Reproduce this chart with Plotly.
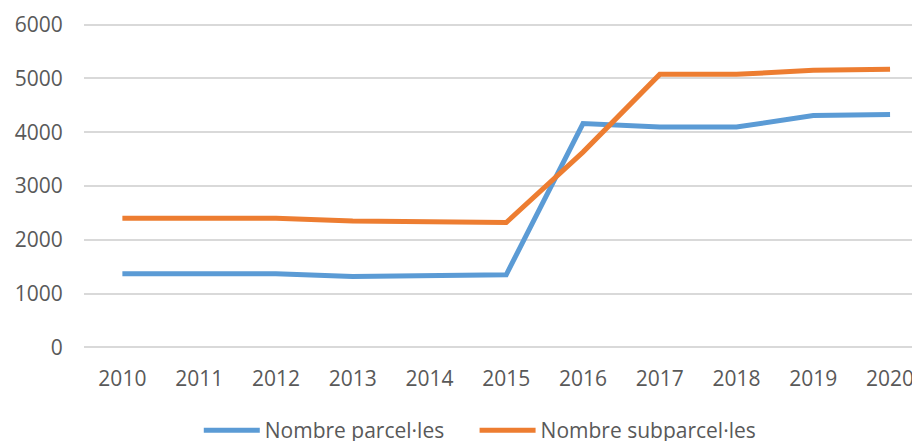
import plotly.graph_objects as go

years = ["2010", "2011", "2012", "2013", "2014", "2015", "2016", "2017", "2018", "2019", "2020"]
parceles = [1370, 1370, 1370, 1320, 1340, 1350, 4160, 4095, 4095, 4310, 4330]
subparceles = [2400, 2400, 2400, 2350, 2340, 2320, 3630, 5075, 5075, 5150, 5170]

name_parc = "Nombre parcel·les"
name_sub = "Nombre subparcel·les"
y_ticks = [0, 1000, 2000, 3000, 4000, 5000, 6000]

txt = "#595959"
font_family = "Open Sans, Liberation Sans, sans-serif"

fig = go.Figure()
fig.add_trace(go.Scatter(x=years, y=parceles, mode="lines", name=name_parc,
                         line=dict(color="#5B9BD5", width=5), legend="legend"))
fig.add_trace(go.Scatter(x=years, y=subparceles, mode="lines", name=name_sub,
                         line=dict(color="#ED7D31", width=5), legend="legend2"))

leg_common = dict(orientation="h", xanchor="left", y=-0.25, yanchor="middle",
                  font=dict(size=21, color=txt), itemwidth=56, bgcolor="rgba(0,0,0,0)")

fig.update_layout(
    width=912, height=433,
    margin=dict(l=76, r=0, t=15, b=92, autoexpand=False),
    paper_bgcolor="white", plot_bgcolor="white",
    font=dict(family=font_family, size=21, color=txt),
    showlegend=True,
    legend=dict(x=0.1373, **leg_common),
    legend2=dict(x=0.4672, **leg_common),
)
fig.update_xaxes(type="category", range=[-0.5, 10.39], showgrid=False, zeroline=False,
                 showline=False, ticks="outside", ticklen=11, tickcolor="rgba(0,0,0,0)",
                 tickfont=dict(size=21, color=txt))
fig.update_yaxes(range=[-30, 6030], tickvals=y_ticks, showgrid=True, gridcolor="#D9D9D9",
                 gridwidth=1.5, zeroline=False, showline=False, ticks="outside", ticklen=16,
                 tickcolor="rgba(0,0,0,0)", tickfont=dict(size=21, color=txt))

fig.write_html("out.html")
